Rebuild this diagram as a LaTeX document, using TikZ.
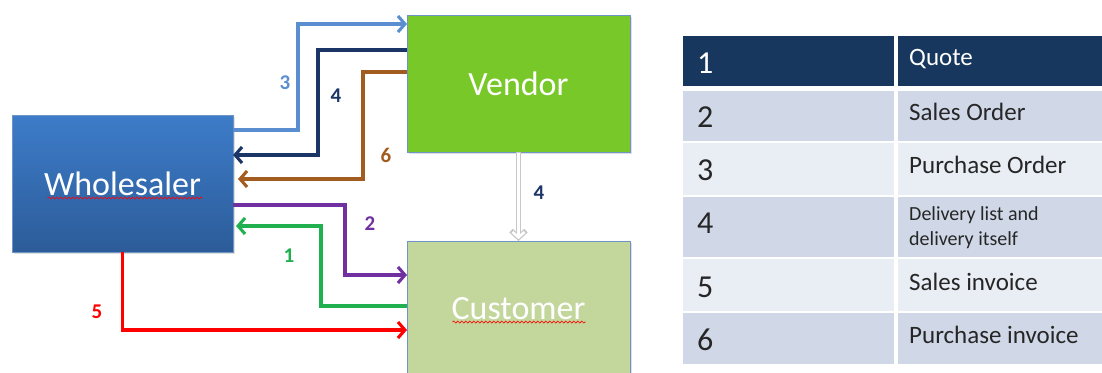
\documentclass[tikz,border=0pt]{standalone}
\usepackage{fontspec}
\setmainfont{Carlito}
\usetikzlibrary{arrows.meta,shadows,decorations.pathmorphing,calc}
\definecolor{wtop}{HTML}{3D7CC9}
\definecolor{wbot}{HTML}{2C5C99}
\definecolor{vend}{HTML}{78C82A}
\definecolor{cust}{HTML}{C3D69B}
\definecolor{bord}{HTML}{6F95C6}
\definecolor{cthree}{HTML}{5A8ED0}
\definecolor{cfour}{HTML}{1B3567}
\definecolor{csix}{HTML}{A35C1F}
\definecolor{ctwo}{HTML}{7030A0}
\definecolor{cone}{HTML}{21B04F}
\definecolor{cfive}{HTML}{FF0000}
\definecolor{hdr}{HTML}{17375E}
\definecolor{rowa}{HTML}{D0D8E8}
\definecolor{rowb}{HTML}{E9EDF4}
\definecolor{txt}{HTML}{262626}
\begin{document}
\begin{tikzpicture}[x=1pt,y=-1pt,
  box/.style={draw=bord, line width=0.8pt, inner sep=0pt, outer sep=0pt, text=white,
    font=\fontsize{34}{38}\selectfont,
    drop shadow={opacity=0.25, shadow xshift=2pt, shadow yshift=-2pt}},
  flow/.style={line width=3.1pt, -{Straight Barb[length=7pt,width=16pt]}},
  lbl/.style={font=\fontsize{21}{24}\selectfont\bfseries},
  cell/.style={draw=none, inner sep=0pt, outer sep=0pt, anchor=north west},
  num/.style={anchor=base west, inner sep=0pt, font=\fontsize{32}{36}\selectfont, text=txt},
  item/.style={anchor=base west, inner sep=0pt, font=\fontsize{25}{30}\selectfont, text=txt},
  small/.style={anchor=base west, inner sep=0pt, font=\fontsize{20}{24}\selectfont, text=txt},
  squiggle/.style={red, line width=0.7pt, decorate, decoration={snake, segment length=4pt, amplitude=1pt}}
]
\useasboundingbox (0,0) rectangle (1102,372);

% boxes
\node[box, top color=wtop, bottom color=wbot, minimum width=221pt, minimum height=137pt] (W) at (122.5,183.5) {Wholesaler};
\node[box, fill=vend, minimum width=223pt, minimum height=137pt] (V) at (518.5,83.5) {Vendor};
\node[box, fill=cust, minimum width=223pt, minimum height=136pt] (C) at (518.5,309) {Customer};

\draw[squiggle] ($(W.center)+(-75,14.5)$) -- ($(W.center)+(80,14.5)$);
\draw[squiggle] ($(C.center)+(-66,13)$) -- ($(C.center)+(67,13)$);

% flows
\draw[flow, cthree] (W.east |- 0,130) -- (298,130) -- (298,24) -- (V.west |- 0,24);
\draw[flow, cfour] (V.west |- 0,50) -- (318,50) -- (318,155) -- (W.east |- 0,155);
\draw[flow, csix, shorten >=5pt] (V.west |- 0,72) -- (363,72) -- (363,179) -- (W.east |- 0,179);
\draw[flow, ctwo] (W.east |- 0,205) -- (345,205) -- (345,275) -- (C.west |- 0,275);
\draw[flow, cone, shorten >=3pt] (C.west |- 0,306) -- (321,306) -- (321,226) -- (W.east |- 0,226);
\draw[flow, cfive] (W.south) -- (122.5,330) -- (C.west |- 0,330);

\draw[line width=5pt, black!22, -{Straight Barb[length=7pt,width=15pt]}] (V.south) -- (C.north);
\draw[line width=2.6pt, white, shorten >=1.8pt, shorten <=0.8pt, -{Straight Barb[length=5.5pt,width=12pt]}] (V.south) -- (C.north);

% labels
\node[lbl, text=cthree] (l3) at (285,83) {3};
\node[lbl, text=cfour] (l4) at (336,96) {4};
\node[lbl, text=csix] (l6) at (386,155) {6};
\node[lbl, text=ctwo] (l2) at (370,224) {2};
\node[lbl, text=cone] (l1) at (289,256) {1};
\node[lbl, text=cfive] (l5) at (97,312) {5};
\node[lbl, text=cfour] (l4b) at (539,193) {4};

% table
\node[cell, fill=hdr, minimum width=211pt, minimum height=50pt] (a1) at (683,36) {};
\node[cell, fill=hdr, minimum width=210pt, minimum height=50pt] (b1) at (898,36) {};
\node[cell, fill=rowa, minimum width=211pt, minimum height=50pt] (a2) at (683,91) {};
\node[cell, fill=rowa, minimum width=210pt, minimum height=50pt] (b2) at (898,91) {};
\node[cell, fill=rowb, minimum width=211pt, minimum height=52pt] (a3) at (683,143) {};
\node[cell, fill=rowb, minimum width=210pt, minimum height=52pt] (b3) at (898,143) {};
\node[cell, fill=rowa, minimum width=211pt, minimum height=60pt] (a4) at (683,197) {};
\node[cell, fill=rowa, minimum width=210pt, minimum height=60pt] (b4) at (898,197) {};
\node[cell, fill=rowb, minimum width=211pt, minimum height=52pt] (a5) at (683,259) {};
\node[cell, fill=rowb, minimum width=210pt, minimum height=52pt] (b5) at (898,259) {};
\node[cell, fill=rowa, minimum width=211pt, minimum height=51pt] (a6) at (683,313) {};
\node[cell, fill=rowa, minimum width=210pt, minimum height=51pt] (b6) at (898,313) {};

\node[num, text=white] (n1) at (697,73) {1};
\node[item, text=white] (t1) at (909,65) {Quote};
\node[num] (n2) at (697,127) {2};
\node[item] (t2) at (909,120) {Sales Order};
\node[num] (n3) at (697,180) {3};
\node[item] (t3) at (909,173) {Purchase Order};
\node[num] (n4) at (697,233) {4};
\node[small] (t4a) at (909,220) {Delivery list and};
\node[small] (t4b) at (909,245) {delivery itself};
\node[num] (n5) at (697,297) {5};
\node[item] (t5) at (909,290) {Sales invoice};
\node[num] (n6) at (697,350) {6};
\node[item] (t6) at (909,343) {Purchase invoice};
\end{tikzpicture}
\end{document}
